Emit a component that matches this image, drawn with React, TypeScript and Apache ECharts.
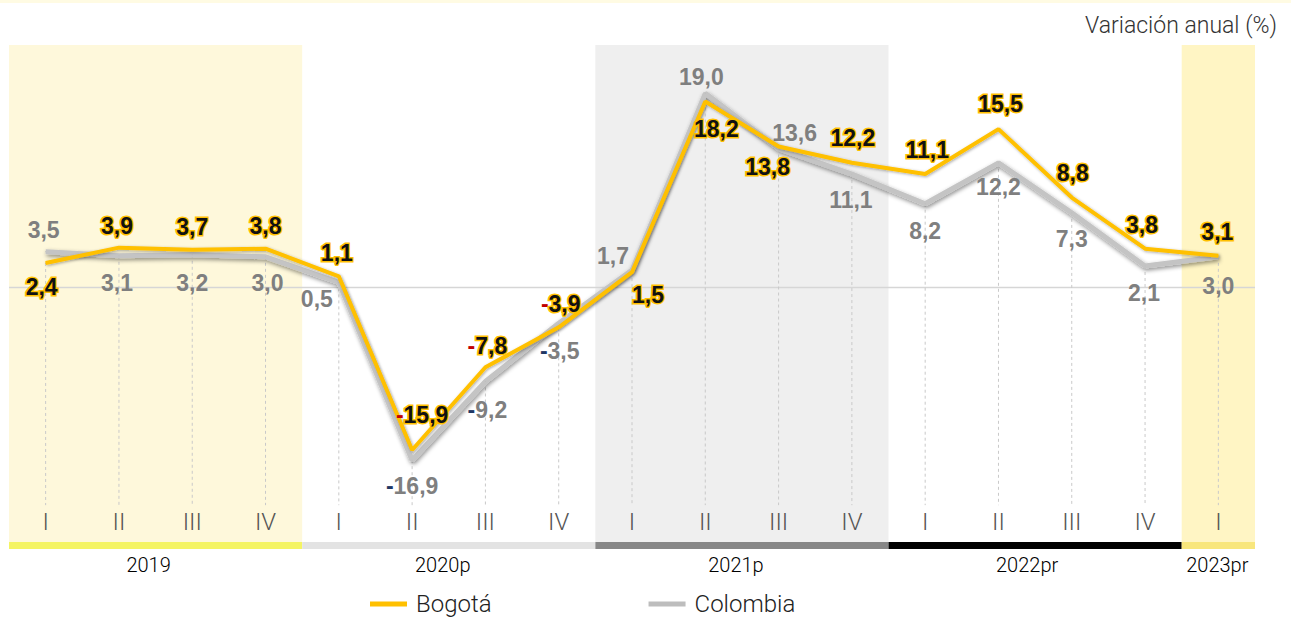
import React, { useEffect, useRef } from "react";
import * as echarts from "echarts";

// ---------- data ----------
const quarters = ["I", "II", "III", "IV", "I", "II", "III", "IV", "I", "II", "III", "IV", "I", "II", "III", "IV", "I"];
const bogota = [2.4, 3.9, 3.7, 3.8, 1.1, -15.9, -7.8, -3.9, 1.5, 18.2, 13.8, 12.2, 11.1, 15.5, 8.8, 3.8, 3.1];
const colombia = [3.5, 3.1, 3.2, 3.0, 0.5, -16.9, -9.2, -3.5, 1.7, 19.0, 13.6, 11.1, 8.2, 12.2, 7.3, 2.1, 3.0];
const years = ["2019", "2020p", "2021p", "2022pr", "2023pr"];
const yearStart = [0, 4, 8, 12, 16];
const yearEnd = [3, 7, 11, 15, 16];
const unitLabel = "Variación anual (%)";

// ---------- layout / style ----------
const Y_MAX = 23.73;
const Y_MIN = -25.59;
const BAND_BOTTOM = -24.9;
const DROP_BOTTOM = -21.3;
const bandColors = ["#FEF8DB", null, "#EFEFEF", null, "#FFF5C4"];
const stripeColors = ["#F4F463", "#E3E3E3", "#878787", "#000000", "#F8E67C"];
const yearLabelDx = [-7, -6, -6, -8, -1];
const bogotaLabelOffset = [
  [-4, 24], [-2, -22], [0, -23], [0, -23], [-2, -23], [10, -35], [2, -21], [2, -23], [16, 23],
  [11, 27], [-11, 21], [1, -25], [2, -24], [2, -25], [1, -25], [-3, -24], [-1, -24],
];
const colombiaLabelOffset = [
  [-2, -22], [-2, 27], [0, 28], [2, 26], [-22, 17], [0, 26], [2, 28], [1, 28], [-19, -14],
  [-4, -16], [16, -16], [-1, 26], [0, 27], [0, 24], [0, 26], [-1, 27], [0, 29],
];
const LIGHT = "Roboto, 'DejaVu Sans Condensed', sans-serif";
const BOLD = "'Liberation Sans', Arial, sans-serif";
const LABEL_SIZE = 23;

const fmt = (v: number) => {
  const s = Math.abs(v).toFixed(1).replace(".", ",");
  return v < 0 ? `{neg|-}{num|${s}}` : `{num|${s}}`;
};

function buildOption(): any {
  const bandItems = years
    .map((_, i) => ({ i, c: bandColors[i] }))
    .filter((d) => d.c)
    .map((d) => ({ value: [yearStart[d.i], yearEnd[d.i]], color: d.c }));

  return {
    animation: false,
    grid: { left: 9, right: 36, top: 45, bottom: 71 },
    xAxis: {
      type: "category",
      data: quarters,
      boundaryGap: true,
      axisLine: { show: false },
      axisTick: { show: false },
      splitLine: { show: false },
      axisLabel: {
        inside: true,
        margin: 15,
        interval: 0,
        color: "#555555",
        fontSize: 24,
        fontWeight: 300,
        fontFamily: LIGHT,
      },
      z: 10,
    },
    yAxis: {
      type: "value",
      min: Y_MIN,
      max: Y_MAX,
      show: false,
      splitLine: { show: false },
    },
    legend: {
      left: 365,
      top: 587,
      itemWidth: 37,
      itemHeight: 5,
      itemGap: 157,
      icon: "rect",
      textStyle: { fontSize: 24, fontWeight: 300, color: "#222", fontFamily: LIGHT, padding: [0, 0, 0, 4] },
      data: ["Bogotá", "Colombia"],
      selectedMode: false,
    },
    graphic: [
      { type: "rect", shape: { x: 0, y: 0, width: 1291, height: 3 }, style: { fill: "#FFFBE3" }, silent: true },
      {
        type: "text",
        x: 1277,
        y: 25,
        style: {
          text: unitLabel,
          align: "right",
          verticalAlign: "middle",
          fontSize: 23,
          fontWeight: 300,
          fill: "#333",
          fontFamily: LIGHT,
        },
        silent: true,
      },
    ],
    series: [
      // background bands
      {
        type: "custom",
        silent: true,
        z: 0,
        clip: false,
        data: bandItems.map((d) => d.value),
        renderItem: (params: any, api: any) => {
          const s = api.value(0);
          const e = api.value(1);
          const w = api.size([1, 0])[0];
          const p0 = api.coord([s, Y_MAX]);
          const p1 = api.coord([e, BAND_BOTTOM]);
          return {
            type: "rect",
            shape: { x: p0[0] - w / 2, y: p0[1], width: p1[0] - p0[0] + w, height: p1[1] - p0[1] },
            style: { fill: bandItems[params.dataIndex].color },
          };
        },
      },
      // year stripes and year labels
      {
        type: "custom",
        silent: true,
        z: 0,
        clip: false,
        data: years.map((_, i) => [yearStart[i], yearEnd[i]]),
        renderItem: (params: any, api: any) => {
          const i = params.dataIndex;
          const s = api.value(0);
          const e = api.value(1);
          const w = api.size([1, 0])[0];
          const p0 = api.coord([s, BAND_BOTTOM]);
          const p1 = api.coord([e, Y_MIN]);
          const x0 = p0[0] - w / 2;
          const x1 = p1[0] + w / 2;
          return {
            type: "group",
            children: [
              {
                type: "rect",
                shape: { x: x0, y: p0[1], width: x1 - x0, height: p1[1] - p0[1] },
                style: { fill: stripeColors[i] },
              },
              {
                type: "text",
                x: (x0 + x1) / 2 + yearLabelDx[i],
                y: p1[1] + 16,
                style: {
                  text: years[i],
                  align: "center",
                  verticalAlign: "middle",
                  fontSize: 20,
                  fontWeight: 300,
                  fill: "#000",
                  fontFamily: LIGHT,
                },
              },
            ],
          };
        },
      },
      // zero line
      {
        type: "custom",
        silent: true,
        z: 1,
        clip: false,
        data: [[0, 0]],
        renderItem: (params: any, api: any) => {
          const y = api.coord([0, 0])[1];
          const cs = params.coordSys;
          return {
            type: "line",
            shape: { x1: cs.x, y1: y, x2: cs.x + cs.width, y2: y },
            style: { stroke: "#D6D6D6", lineWidth: 1.5 },
          };
        },
      },
      // dashed drop lines
      {
        type: "custom",
        silent: true,
        z: 1,
        clip: false,
        data: quarters.map((_, i) => [i, Math.min(bogota[i], colombia[i])]),
        renderItem: (params: any, api: any) => {
          const a = api.coord([api.value(0), api.value(1)]);
          const b = api.coord([api.value(0), DROP_BOTTOM]);
          return {
            type: "line",
            shape: { x1: a[0], y1: a[1], x2: b[0], y2: b[1] },
            style: { stroke: "#C9C9C9", lineWidth: 1, lineDash: [3, 3] },
          };
        },
      },
      {
        name: "Colombia",
        type: "line",
        z: 3,
        silent: true,
        symbol: "circle",
        symbolSize: 1,
        color: "#BDBDBD",
        itemStyle: { color: "#BDBDBD" },
        lineStyle: {
          color: "#C4C4C4",
          width: 5,
          shadowColor: "rgba(0,0,0,0.45)",
          shadowBlur: 4,
          shadowOffsetX: 1,
          shadowOffsetY: 2,
        },
        emphasis: { disabled: true },
        data: colombia.map((v, i) => ({
          value: v,
          label: { offset: colombiaLabelOffset[i] },
        })),
        label: {
          show: true,
          position: "inside",
          formatter: (p: any) => fmt(p.value),
          rich: {
            num: { fontSize: LABEL_SIZE, fontWeight: "bold", color: "#7F7F7F", fontFamily: BOLD },
            neg: { fontSize: LABEL_SIZE, fontWeight: "bold", color: "#1F3864", fontFamily: BOLD },
          },
        },
      },
      {
        name: "Bogotá",
        type: "line",
        z: 4,
        silent: true,
        symbol: "circle",
        symbolSize: 1,
        color: "#FFC000",
        itemStyle: { color: "#FFC000" },
        lineStyle: {
          color: "#FFC000",
          width: 4,
          shadowColor: "rgba(0,0,0,0.35)",
          shadowBlur: 3,
          shadowOffsetX: 1,
          shadowOffsetY: 1,
        },
        emphasis: { disabled: true },
        data: bogota.map((v, i) => ({
          value: v,
          label: { offset: bogotaLabelOffset[i] },
        })),
        label: {
          show: true,
          position: "inside",
          formatter: (p: any) => fmt(p.value),
          rich: {
            num: {
              fontSize: LABEL_SIZE,
              fontWeight: "bold",
              color: "#111",
              textBorderColor: "#FFC000",
              textBorderWidth: 3,
              fontFamily: BOLD,
            },
            neg: {
              fontSize: LABEL_SIZE,
              fontWeight: "bold",
              color: "#C00000",
              fontFamily: BOLD,
            },
          },
        },
      },
    ],
  };
}

export default function App() {
  const ref = useRef<HTMLDivElement>(null);
  useEffect(() => {
    document.body.style.margin = "0";
    const chart = echarts.init(ref.current as HTMLDivElement, null, { renderer: "svg" });
    chart.setOption(buildOption());
    return () => chart.dispose();
  }, []);
  return <div ref={ref} style={{ width: 1291, height: 620 }} />;
}
